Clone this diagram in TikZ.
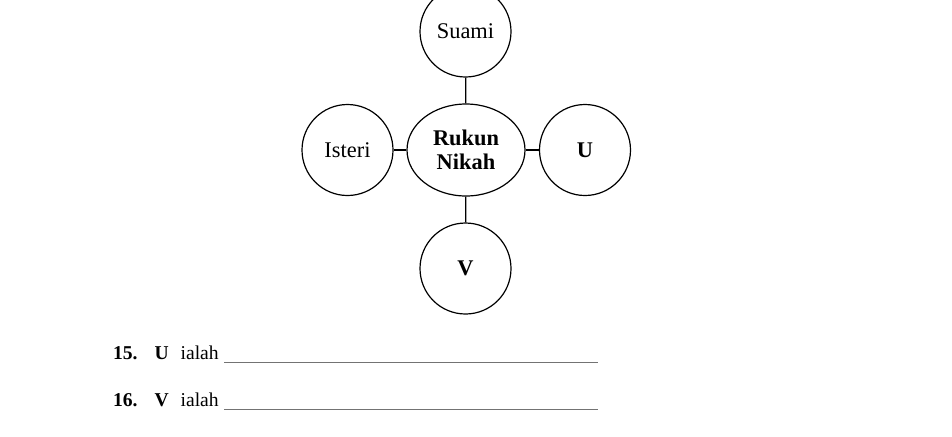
\documentclass[tikz,border=0pt]{standalone}
\usepackage{fontspec}
\setmainfont{Liberation Serif}
\usetikzlibrary{shapes.geometric}

\begin{document}
\begin{tikzpicture}[x=0.5pt, y=-0.5pt, line width=0.6pt]
        % Define node styles
        \tikzstyle{circ}=[circle,draw=black,minimum size=45.5pt,inner sep=0pt,font=\fontsize{11.2}{12}\selectfont]
        \tikzstyle{hub}=[ellipse,draw=black,minimum width=59pt,minimum height=46pt,inner sep=0pt,align=center,font=\fontsize{11.2}{12}\selectfont\bfseries]
        \tikzstyle{qtext}=[anchor=base west,inner sep=0pt,font=\fontsize{9.8}{12}\selectfont]
        \tikzstyle{answer}=[draw=black!55,line width=0.5pt]

        \useasboundingbox (0,0) rectangle (952,436);

        % Centre and the four circles
        \node [hub] (rukun) at (466,150) {Rukun\\Nikah};
        \node [circ] (suami) at (465.5,31.5) {Suami};
        \node [circ] (isteri) at (347.5,150) {Isteri};
        \node [circ] (nodeU) at (585,150) {\bfseries U};
        \node [circ] (nodeV) at (465.5,268.5) {\bfseries V};

        % Connect centre with the circles
        \foreach \n in {suami,isteri,nodeU,nodeV}
            \draw (rukun) -- (\n);

        % Questions
        \foreach \q/\l/\y in {15/U/359,16/V/406} {
            \node [qtext] (num-\q) at (112.5,\y) {\bfseries \q.};
            \node [qtext] (let-\q) at (154,\y) {\bfseries \l};
            \node [qtext] (ialah-\q) at (180,\y) {ialah};
            \coordinate (ans-\q-a) at (224,\y+3);
            \coordinate (ans-\q-b) at (598,\y+3);
            \draw [answer] (ans-\q-a) -- (ans-\q-b);
        }
    \end{tikzpicture}
\end{document}
